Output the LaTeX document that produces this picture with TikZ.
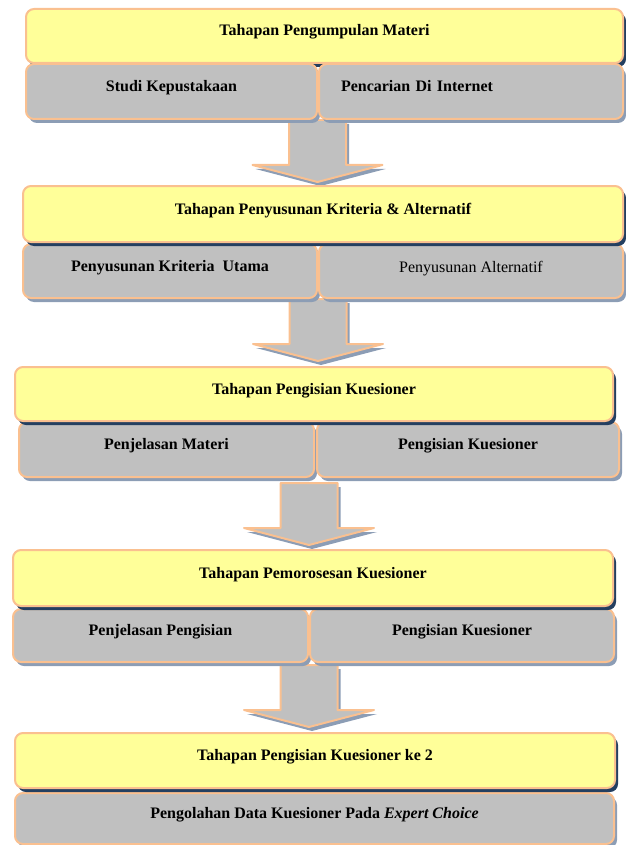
\documentclass[tikz,border=0pt]{standalone}
\usepackage{fontspec}
\setmainfont{Liberation Serif}
\usetikzlibrary{shadows}
\definecolor{yel}{HTML}{FFFF99}
\definecolor{bord}{HTML}{FAC090}
\definecolor{gry}{HTML}{C0C0C0}
\definecolor{navy}{HTML}{243F60}
\definecolor{shd}{HTML}{8C9DB5}
\tikzset{
  basebox/.style={draw=bord, line width=2pt, rounded corners=8pt, inner xsep=0pt, inner ysep=0pt,
    anchor=north west, font=\fontsize{16}{19}\selectfont\bfseries},
  ybox/.style={basebox, fill=yel, general shadow={fill=navy, shadow xshift=3pt, shadow yshift=-4pt}},
  gbox/.style={basebox, fill=gry, general shadow={fill=shd, shadow xshift=3pt, shadow yshift=-4pt}},
  pics/barrow/.style={code={
    \fill[shd] (-25.5,4) -- (31.5,4) -- (31.5,49) -- (68,49) -- (3,66) -- (-62,49) -- (-25.5,49) -- cycle;
    \filldraw[fill=gry, draw=bord, line width=2pt, line join=round]
      (-28.5,0) -- (28.5,0) -- (28.5,45) -- (65,45) -- (0,62) -- (-65,45) -- (-28.5,45) -- cycle;
  }}
}
\begin{document}
\begin{tikzpicture}[x=1pt,y=-1pt]
\useasboundingbox (0,0) rectangle (625,845);
% arrows
\pic (arr1) at (317.5,120) {barrow};
\pic (arr2) at (318,299) {barrow};
\pic (arr3) at (309,483) {barrow};
\pic (arr4) at (309,665) {barrow};
% section 1
\node[ybox, minimum width=597pt, text height=27pt, text depth=27pt] (y1) at (25,8) {Tahapan Pengumpulan Materi};
\node[gbox, minimum width=291pt, text height=27.5pt, text depth=27.5pt] (g1l) at (25,63) {Studi Kepustakaan};
\node[gbox, text width=260pt, inner xsep=22pt, align=left, text height=27.5pt, text depth=27.5pt] (g1r) at (318,63) {Pencarian Di Internet};
% section 2
\node[gbox, minimum width=294pt, text height=27pt, text depth=27pt] (g2l) at (22,243) {Penyusunan Kriteria\ \ Utama};
\node[gbox, minimum width=304pt, text height=28pt, text depth=26pt, font=\fontsize{16}{19}\selectfont\mdseries] (g2r) at (318,243) {Penyusunan Alternatif};
\node[ybox, minimum width=600pt, text height=28pt, text depth=28pt] (y2) at (22,185) {Tahapan Penyusunan Kriteria \& Alternatif};
% section 3
\node[gbox, minimum width=295pt, text height=27.5pt, text depth=27.5pt] (g3l) at (18,421) {Penjelasan Materi};
\node[gbox, minimum width=302pt, text height=27.5pt, text depth=27.5pt] (g3r) at (316,421) {Pengisian Kuesioner};
\node[ybox, minimum width=598pt, text height=27pt, text depth=27pt] (y3) at (14,366) {Tahapan Pengisian Kuesioner};
% section 4
\node[gbox, minimum width=295pt, text height=26.5pt, text depth=26.5pt] (g4l) at (12,608) {Penjelasan Pengisian};
\node[gbox, minimum width=304pt, text height=26pt, text depth=27pt] (g4r) at (309,608) {Pengisian Kuesioner};
\node[ybox, minimum width=600pt, text height=28pt, text depth=28pt] (y4) at (12,549) {Tahapan Pemorosesan Kuesioner};
% section 5
\node[gbox, minimum width=599pt, text height=25.5pt, text depth=25.5pt] (g5) at (14,792) {Pengolahan Data Kuesioner Pada \textit{Expert Choice}};
\node[ybox, minimum width=600pt, text height=27.5pt, text depth=27.5pt] (y5) at (14,732) {Tahapan Pengisian Kuesioner ke 2};
\end{tikzpicture}
\end{document}
